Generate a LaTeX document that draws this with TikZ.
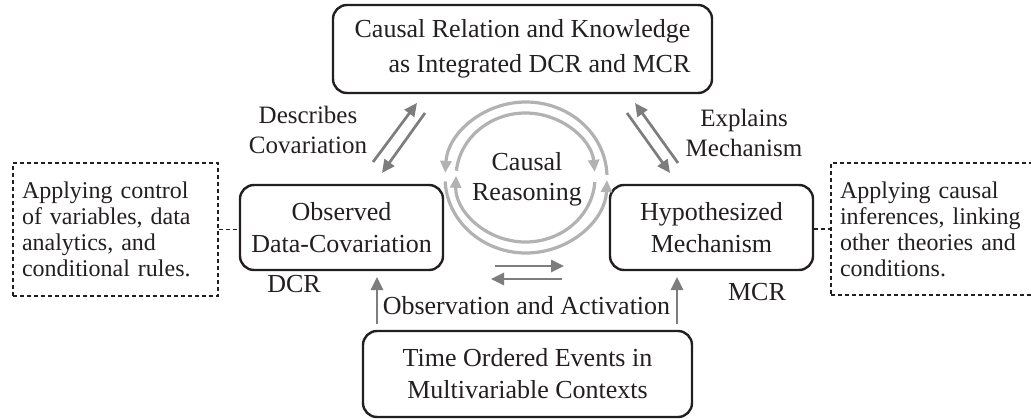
\documentclass[tikz,border=0pt]{standalone}
\usepackage{fontspec}
\setmainfont{Liberation Serif}
\usetikzlibrary{arrows.meta}
\definecolor{txt}{RGB}{35,31,32}
\definecolor{arrgray}{RGB}{125,125,125}
\definecolor{circgray}{RGB}{178,178,178}
\tikzset{
  mainbox/.style={draw=txt, line width=2.4pt, rounded corners=14pt, align=center,
    text=txt, font=\fontsize{26}{32}\selectfont, inner sep=0pt},
  notebox/.style={draw=txt, line width=1.1pt, dash pattern=on 4pt off 3pt, align=left,
    text=txt, font=\fontsize{24}{26}\selectfont, inner xsep=9pt, inner ysep=0pt},
  lbl/.style={align=center, text=txt, font=\fontsize{25}{30}\selectfont, inner sep=0pt},
  garrow/.style={draw=arrgray, line width=2.7pt, -{Triangle[length=13pt,width=12pt]}},
  carrow/.style={draw=circgray, line width=3.2pt, -{Triangle[length=12pt,width=11pt]}},
  dashlink/.style={draw=txt, line width=1.1pt, dash pattern=on 4pt off 3pt}
}
\begin{document}
\begin{tikzpicture}[x=1pt,y=-1pt]
\useasboundingbox (0,0) rectangle (1031,418);
\clip (0,0) rectangle (1031,418);

% main boxes
\node[mainbox, minimum width=379pt, minimum height=88pt, align=right] (top) at (522.5,49)
  {Causal Relation and Knowledge\\[3pt]as Integrated DCR and MCR};
\node[mainbox, minimum width=203pt, minimum height=85pt] (obs) at (341.5,227.5)
  {Observed\\Data-Covariation};
\node[mainbox, minimum width=203pt, minimum height=85pt] (hyp) at (711.5,227.5)
  {Hypothesized\\Mechanism};
\node[mainbox, minimum width=329pt, minimum height=86pt] (bot) at (527.5,374)
  {Time Ordered Events in\\Multivariable Contexts};

% dashed note boxes
\node[notebox, text width=187pt, minimum height=133pt] (nl) at (115.5,229.5)
  {Applying control\\of variables, data\\analytics, and\\conditional rules.};
\node[notebox, text width=192pt, minimum height=132pt] (nr) at (936,229)
  {Applying causal\\inferences, linking\\other theories and\\conditions.};
\draw[dashlink] (nl.east) -- (obs.west |- nl.east);
\draw[dashlink] (hyp.east |- nr.west) -- (nr.west);

% labels
\node[lbl] (desc) at (308,130) {Describes\\Covariation};
\node[lbl] (expl) at (744,133) {Explains\\Mechanism};
\node[lbl, font=\fontsize{26}{30}\selectfont] (cr) at (527,179) {Causal\\Reasoning};
\node[lbl, font=\fontsize{26}{30}\selectfont] (dcr) at (294,284) {DCR};
\node[lbl, font=\fontsize{26}{30}\selectfont] (mcr) at (757,292) {MCR};
\node[lbl, font=\fontsize{26}{30}\selectfont] (oa) at (526.5,306) {Observation and Activation};

% circular arrows
\coordinate (cc) at (526,177.5);
\coordinate (ci) at (525.5,177.5);
\draw[carrow] (cc) ++(358:81 and 75.5) arc[start angle=358, end angle=183.5, x radius=81, y radius=75.5];
\draw[carrow] (cc) ++(177:81 and 75.5) arc[start angle=177, end angle=2, x radius=81, y radius=75.5];
\draw[carrow] (ci) ++(4:69.5 and 64.5) arc[start angle=4, end angle=181.5, x radius=69.5, y radius=64.5];
\draw[carrow] (ci) ++(186:69.5 and 64.5) arc[start angle=186, end angle=355, x radius=69.5, y radius=64.5];

% straight gray arrows
\coordinate (a1s) at (373,162); \coordinate (a1e) at (417,103);
\coordinate (a2s) at (425,113); \coordinate (a2e) at (382,173);
\coordinate (a3s) at (678,163); \coordinate (a3e) at (635,103);
\coordinate (a4s) at (627,113); \coordinate (a4e) at (670,173);
\coordinate (a5s) at (495,266); \coordinate (a5e) at (564,266);
\coordinate (a6s) at (562,279); \coordinate (a6e) at (491,279);
\coordinate (a7s) at (377,324); \coordinate (a7e) at (377,277);
\coordinate (a8s) at (677,324); \coordinate (a8e) at (677,277);
\draw[garrow] (a1s) -- (a1e);
\draw[garrow] (a2s) -- (a2e);
\draw[garrow] (a3s) -- (a3e);
\draw[garrow] (a4s) -- (a4e);
\draw[garrow] (a5s) -- (a5e);
\draw[garrow] (a6s) -- (a6e);
\draw[garrow] (a7s) -- (a7e);
\draw[garrow] (a8s) -- (a8e);
\end{tikzpicture}
\end{document}
